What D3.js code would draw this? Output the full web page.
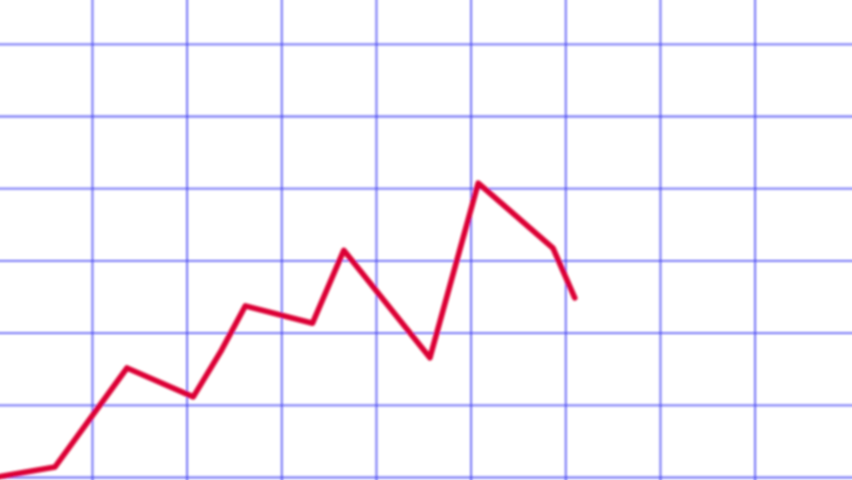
<!DOCTYPE html>
<html><head><meta charset="utf-8">
<script src="https://cdn.jsdelivr.net/npm/d3@7/dist/d3.min.js"></script>
<style>html,body{margin:0;padding:0;background:#fff;overflow:hidden}</style>
</head><body>
<svg id="c" width="852" height="480"></svg>
<script>
// Data (grid units)
const xTicks = [1, 2, 3, 4, 5, 6, 7, 8];
const yTicks = [0, 1, 2, 3, 4, 5, 6];
const xs = [0, 0.61, 1.37, 2.07, 2.37, 2.62, 3.33, 3.66, 4.57, 5.08, 5.87, 6.10];
const ys = [0, 0.14, 1.51, 1.11, 1.76, 2.37, 2.13, 3.14, 1.65, 4.07, 3.17, 2.48];

const W = 852, H = 480;
const svg = d3.select("#c");
const x = d3.scaleLinear().domain([0, 9]).range([-2.7, 849.3]);
const y = d3.scaleLinear().domain([0, 6]).range([477, 43.8]);

const defs = svg.append("defs");
defs.append("filter").attr("id", "blur").attr("x", "-5%").attr("y", "-5%").attr("width", "110%").attr("height", "110%")
  .append("feGaussianBlur").attr("stdDeviation", 0.9);

const g = svg.append("g").attr("filter", "url(#blur)");

const gx = g.append("g").attr("transform", `translate(0,${H + 10})`)
  .call(d3.axisBottom(x).tickValues(xTicks).tickSize(H + 20).tickFormat(""));
const gy = g.append("g").attr("transform", `translate(-10,0)`)
  .call(d3.axisLeft(y).tickValues(yTicks).tickSize(-(W + 20)).tickFormat(""));
[gx, gy].forEach(a => {
  a.select(".domain").remove();
  a.selectAll(".tick line").attr("stroke", "#4040f2").attr("stroke-opacity", 0.8).attr("stroke-width", 1.8);
});
gx.selectAll(".tick line").attr("y1", 0).attr("y2", -(H + 20));

const pts = xs.map((v, i) => [v, ys[i]]);
g.append("path").datum(pts)
  .attr("fill", "none").attr("stroke", "#dc0036").attr("stroke-width", 5.6)
  .attr("stroke-linejoin", "round").attr("stroke-linecap", "round")
  .attr("d", d3.line().x(d => x(d[0])).y(d => y(d[1])));
</script>
</body></html>
